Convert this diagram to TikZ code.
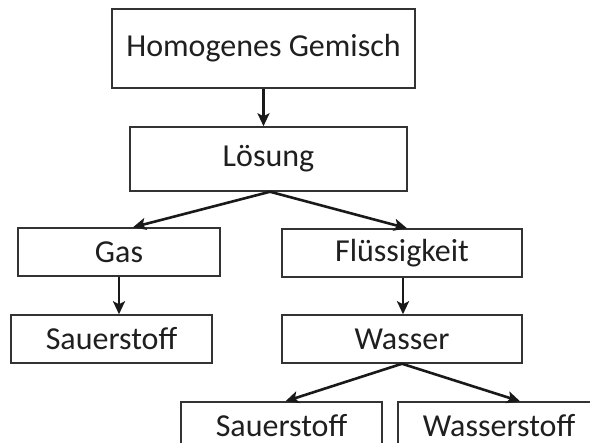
\documentclass[tikz,border=0pt]{standalone}
\usepackage{fontspec}
\setmainfont{Carlito}
\usetikzlibrary{arrows.meta,calc}
\begin{document}
\begin{tikzpicture}[x=1pt,y=-1pt,
  box/.style={draw=black!80,line width=1.5pt,fill=white,inner sep=0pt,
    font=\fontsize{32}{36}\selectfont,text=black!88},
  link/.style={draw=black!90,line width=2.6pt,
    -{Stealth[length=13pt,width=12pt,inset=3pt]}}]
\useasboundingbox (0,0) rectangle (590,443);
% boxes, centred on their positions
\node[box,minimum width=303pt,minimum height=79pt] (hg)  at (263.5,48.5) {Homogenes Gemisch};
\node[box,minimum width=277pt,minimum height=64pt] (los) at (268.5,159)  {Lösung};
\node[box,minimum width=202pt,minimum height=48pt] (gas) at (119,252)    {Gas};
\node[box,minimum width=240pt,minimum height=48pt] (fl)  at (402,253)    {Flüssigkeit};
\node[box,minimum width=201pt,minimum height=48pt] (sl)  at (111.5,339)  {Sauerstoff};
\node[box,minimum width=240pt,minimum height=48pt] (wa)  at (402,339)    {Wasser};
\node[box,minimum width=201pt,minimum height=48pt] (sb)  at (281.5,426)  {Sauerstoff};
\node[box,minimum width=202pt,minimum height=48pt] (ws)  at (499,426)    {Wasserstoff};
% connectors
\draw[link] (hg.south) -- (hg.south |- los.north);
\draw[link] ($(los.south)+(1.5,0)$) -- ($(gas.north)+(14,0)$);
\draw[link] ($(los.south)+(1.5,0)$) -- ($(fl.north)+(5,0)$);
\draw[link] (gas.south) -- (gas.south |- sl.north);
\draw[link] ($(fl.south)+(1,0)$) -- ($(wa.north)+(1,0)$);
\draw[link] (wa.south) -- ($(sb.north)+(4,0)$);
\draw[link] (wa.south) -- ($(ws.north)+(21,0)$);
\end{tikzpicture}
\end{document}
